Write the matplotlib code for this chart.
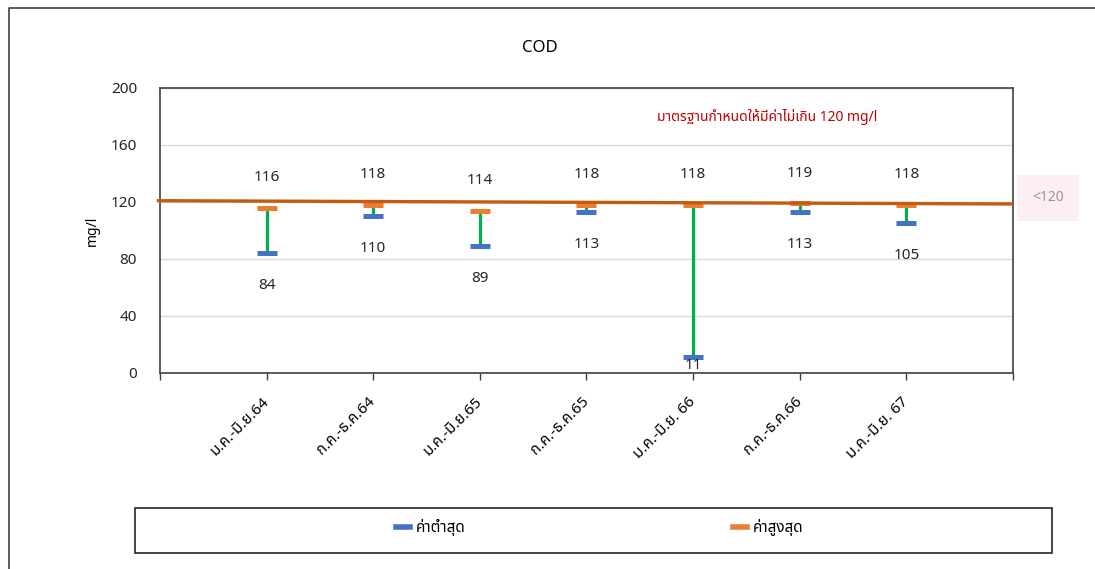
import matplotlib
matplotlib.use("Agg")
import matplotlib.pyplot as plt
from matplotlib.lines import Line2D

plt.rcParams["font.family"] = ["Noto Sans Thai", "Noto Sans", "DejaVu Sans"]

# data
periods = ["ม.ค.-มิ.ย.64", "ก.ค.-ธ.ค.64", "ม.ค.-มิ.ย.65", "ก.ค.-ธ.ค.65",
           "ม.ค.-มิ.ย. 66", "ก.ค.-ธ.ค.66", "ม.ค.-มิ.ย. 67"]
cod_min = [84, 110, 89, 113, 11, 113, 105]
cod_max = [116, 118, 114, 118, 118, 119, 118]
standard_ends = [120.9, 118.6]   # hand-drawn limit line, slightly tilted
standard_text = "มาตรฐานกำหนดให้มีค่าไม่เกิน 120 mg/l"

blue = "#4472C4"
orange = "#ED7D31"
green = "#00B050"
limit_col = "#C55A11"

fig = plt.figure(figsize=(10.95, 5.69), dpi=100)
ax = fig.add_axes([0.1461, 0.3445, 0.779, 0.5009])

x = list(range(1, len(periods) + 1))

# high-low lines and markers
ax.vlines(x, cod_min, cod_max, color=green, lw=2.3, zorder=2)
ax.plot(x, cod_min, ls="none", marker="_", ms=14, mew=3.6, color=blue, zorder=3)
ax.plot(x, cod_max, ls="none", marker="_", ms=14, mew=3.6, color=orange, zorder=3)

# standard line
ax.plot([-0.03, len(periods) + 1], standard_ends, color=limit_col, lw=2.4,
        zorder=4, clip_on=False, solid_capstyle="butt")

# data labels
for xi, lo, hi in zip(x, cod_min, cod_max):
    ax.text(xi, hi + 21, str(hi), ha="center", va="center", fontsize=11,
            color="#262626")
    ax.text(xi, max(lo - 22.5, 5.5), str(lo), ha="center", va="center",
            fontsize=11, color="#262626")

ax.text(4.66, 179.6, standard_text, color="#C00000", fontsize=10,
        ha="left", va="center")

ax.set_xlim(0, len(periods) + 1)
ax.set_ylim(0, 200)
ax.set_yticks([0, 40, 80, 120, 160, 200])
ax.set_xticks(range(0, len(periods) + 2))
ax.set_xticklabels([""] + periods + [""], rotation=45, ha="right",
                   va="center", rotation_mode="anchor", fontsize=11)
ax.tick_params(axis="x", length=5, width=1, color="#404040", pad=14)
ax.tick_params(axis="y", length=0, pad=16.5, labelsize=11, labelcolor="#262626")
ax.grid(axis="y", color="#D9D9D9", lw=1)
ax.set_axisbelow(True)
for s in ax.spines.values():
    s.set_color("#404040")
    s.set_linewidth(1.2)

ax.set_ylabel("mg/l", fontsize=10)
ax.yaxis.set_label_coords(-0.071, 0.5)

fig.text(0.493, 0.9156, "COD", ha="center", va="center", fontsize=12)

# outer border (top and left edges visible)
fig.add_artist(Line2D([9 / 1095, 9 / 1095, 1], [0, 1 - 8 / 569, 1 - 8 / 569],
                      transform=fig.transFigure, color="#404040", lw=1.2))

# legend box
fig.add_artist(plt.Rectangle((135 / 1095, 1 - 553 / 569), 917 / 1095, 45 / 569,
                             transform=fig.transFigure, fill=False,
                             edgecolor="#262626", lw=1.2))
handles = [Line2D([], [], color=blue, lw=4), Line2D([], [], color=orange, lw=4)]
fig.legend(handles, ["ค่าต่ำสุด", "ค่าสูงสุด"], loc="center",
           bbox_to_anchor=(600 / 1095, 1 - 528 / 569), ncol=2, frameon=False,
           handlelength=0.9, handletextpad=0.4, columnspacing=17.5, fontsize=11)

# faint pasted image remnant at right edge
fig.text(1048 / 1095, 1 - 198 / 569, "<120", ha="center", va="center",
         fontsize=10, color="#7a6a72", alpha=0.7,
         bbox=dict(boxstyle="square,pad=1.1", fc="#fbeff4", ec="none"))

fig.savefig("out.png", dpi=100)
